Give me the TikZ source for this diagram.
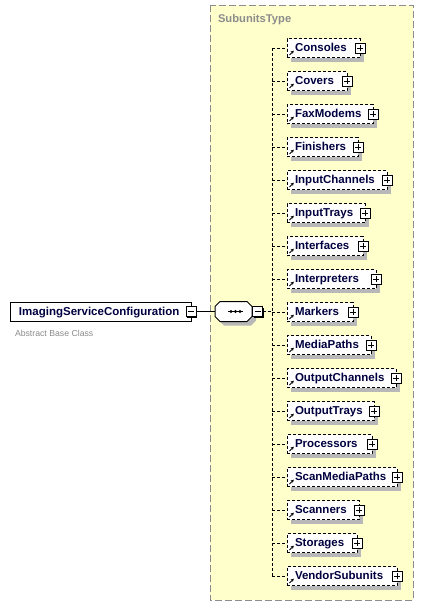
\documentclass[tikz,border=0pt]{standalone}
\usepackage{fontspec}
\setmainfont{Liberation Sans}
\usetikzlibrary{arrows.meta}
\definecolor{bgyellow}{HTML}{FFFFCC}
\definecolor{shadowgray}{HTML}{B8B8B8}
\definecolor{framegray}{HTML}{8C8C8C}
\definecolor{txtnavy}{HTML}{000040}
\definecolor{notegray}{HTML}{8A8A8A}
\newcommand\signshape[1]{%
  \fill[black] ([shift={(1pt,-1pt)}]#1.south west) rectangle ([shift={(1pt,-1pt)}]#1.north east);
  \draw[fill=white,line width=1pt] (#1.south west) rectangle (#1.north east);
  \draw[line width=1pt] ([xshift=-3pt]#1.center) -- ([xshift=3pt]#1.center);}
\begin{document}
\begin{tikzpicture}[x=1pt,y=-1pt,
  every node/.style={inner sep=0pt,outer sep=0pt},
  boxfont/.style={font=\fontsize{11.5}{12}\selectfont\bfseries,text=txtnavy,text height=9pt,text depth=2pt},
  childbox/.style={boxfont,draw,fill=white,dash pattern=on 3pt off 2pt,line width=1pt,
    minimum height=19pt,anchor=west,align=left,inner xsep=8pt},
  mainbox/.style={boxfont,draw,fill=white,line width=1pt,minimum height=19pt,anchor=west,
    align=left,inner xsep=9pt},
  signbox/.style={minimum size=10pt},
  conn/.style={line width=1pt,dash pattern=on 3pt off 2pt},
  solidconn/.style={line width=1pt}
]
\useasboundingbox (0,0) rectangle (425,608);
% container
\draw[fill=bgyellow,draw=framegray,line width=1pt,dash pattern=on 7pt off 3pt] (210,5) rectangle (413,600);
\node[anchor=base west,font=\fontsize{11.2}{12}\selectfont\bfseries,text=framegray] (title) at (218,22.5) {SubunitsType};

% main element
\node[mainbox,text width=163pt] (isc) at (10,311.5) {ImagingServiceConfiguration};
\node[signbox] (im) at (isc.east) {};
\signshape{im}
\node[anchor=base west,font=\fontsize{8.7}{10}\selectfont,text=notegray] (note) at (15,336.5) {Abstract Base Class};

% sequence compositor
\fill[shadowgray] (224,305.5) -- (251,305.5) -- (256,310.5) -- (256,320.5) -- (251,325.5) -- (224,325.5) -- (219,320.5) -- (219,310.5) -- cycle;
\node[minimum width=37pt,minimum height=20pt] (seq) at (233.5,311.5) {};
\draw[fill=white,line width=1pt] ([xshift=5pt]seq.north west) -- ([xshift=-5pt]seq.north east) -- ([yshift=-5pt]seq.north east) -- ([yshift=5pt]seq.south east) -- ([xshift=-5pt]seq.south east) -- ([xshift=5pt]seq.south west) -- ([yshift=5pt]seq.south west) -- ([yshift=-5pt]seq.north west) -- cycle;
\draw[line width=1pt] ([xshift=-5.5pt]seq.center) -- ([xshift=9.5pt]seq.center);
\foreach \dx in {-2.5,2,6.5}{\fill ([xshift=\dx pt]seq.center) circle (1.6pt);}
\node[signbox,anchor=west] (sm) at ([xshift=0.5pt]seq.east) {};
\signshape{sm}

\draw[solidconn] (im.east) -- (seq.west);
\coordinate (junction) at (272,311.5);
\draw[conn] (sm.east) -- (junction);

% children
\coordinate (bustop) at (272,48);
\coordinate (busbot) at (272,576);
\draw[conn] (bustop) -- (busbot);
\foreach \n/\w [count=\i from 0] in {Consoles/73,Covers/60,FaxModems/86,Finishers/71,InputChannels/100,InputTrays/78,Interfaces/76,Interpreters/89,Markers/66,MediaPaths/84,OutputChannels/109,OutputTrays/87,Processors/85,ScanMediaPaths/110,Scanners/72,Storages/70,VendorSubunits/110}{
  \pgfmathsetmacro{\yy}{48+33*\i}
  \pgfmathsetmacro{\tw}{\w-16}
  \pgfmathsetmacro{\sx}{291+\w}
  \pgfmathsetmacro{\sya}{\yy-5}
  \pgfmathsetmacro{\syb}{\yy+14}
  \fill[shadowgray] (291,\sya) rectangle (\sx,\syb);
  \node[childbox,text width=\tw pt] (\n) at (287,\yy) {\n};
  \coordinate (bus\i) at (272,\yy);
  \draw[conn] (bus\i) -- (\n.west);
  \draw[line width=0.9pt,-{Stealth[length=3pt,width=3.2pt]}] ([shift={(2.5pt,2.5pt)}]\n.south west) -- ([shift={(6.8pt,6.8pt)}]\n.south west);
  \node[signbox] (p\n) at (\n.east) {};
  \signshape{p\n}
  \draw[line width=1pt] ([yshift=-3pt]p\n.center) -- ([yshift=3pt]p\n.center);
}
\end{tikzpicture}
\end{document}
